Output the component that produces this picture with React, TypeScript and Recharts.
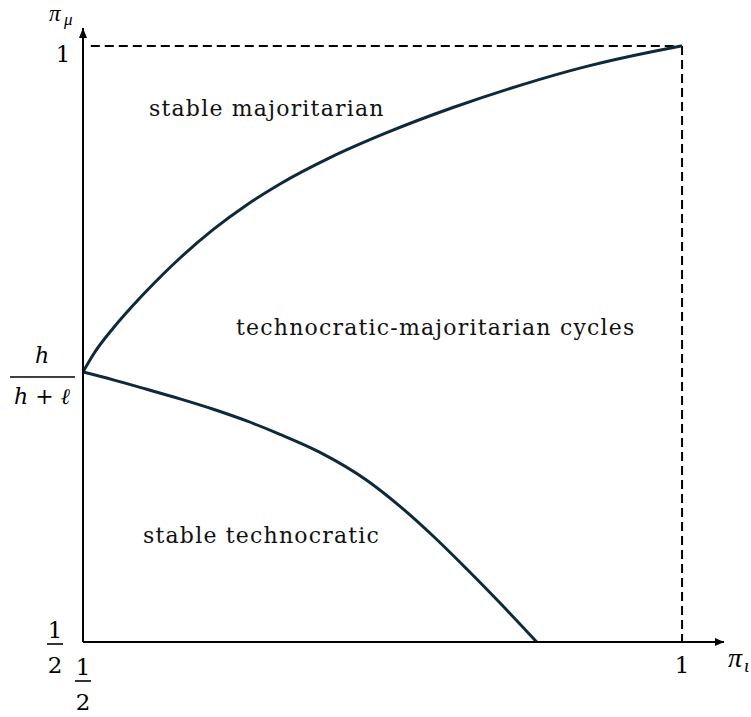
import React from 'react';
import { ComposedChart, Line, XAxis, YAxis, ReferenceLine, ReferenceDot } from 'recharts';

// Upper boundary: stable majoritarian / cycles
const upperX = [0.5, 0.5086, 0.5253, 0.5392, 0.5532, 0.567, 0.581, 0.6088, 0.6366, 0.6644, 0.7062, 0.7535, 0.8088, 0.8648, 0.9204, 0.9758, 1];
const upperY = [0.7265, 0.7412, 0.7634, 0.7795, 0.7946, 0.8087, 0.8221, 0.8461, 0.8666, 0.8842, 0.9063, 0.9272, 0.9483, 0.9669, 0.9828, 0.9953, 1];
// Lower boundary: stable technocratic / cycles
const lowerX = [0.5, 0.5253, 0.5532, 0.581, 0.6088, 0.6366, 0.6644, 0.6978, 0.7368, 0.7646, 0.7924, 0.8203, 0.8481, 0.8787];
const lowerY = [0.7265, 0.7199, 0.712, 0.7039, 0.6952, 0.6854, 0.6742, 0.6591, 0.6357, 0.6138, 0.5887, 0.5612, 0.5327, 0.5];

const xTicks = [0.5, 1];
const xTickLabels = ['1/2', '1'];
const yTicks = [0.5, 0.7265, 1];
const yTickLabels = ['1/2', 'h/(h+ℓ)', '1'];

const regionNames = ['stable majoritarian', 'technocratic-majoritarian cycles', 'stable technocratic'];
const regionAnchorX = [0.5551, 0.6277, 0.5501];
const regionAnchorY = [0.9413, 0.7576, 0.5831];

const upperData = upperX.map((x, i) => ({ x, y: upperY[i] }));
const lowerData = lowerX.map((x, i) => ({ x, y: lowerY[i] }));

const W = 751;
const H = 717;
const MATH = "'DejaVu Serif', serif";
const GREEK = "'Liberation Serif', serif";
const TEXT = "'DejaVu Serif', serif";
const CURVE = '#0e2a3a';

const Frac = ({ cx, numY, barY, denY, half, num, den, size }: any) => (
  <g fontFamily={MATH} fontSize={size} fill="#000" textAnchor="middle">
    <text x={cx} y={numY}>{num}</text>
    <line x1={cx - half} x2={cx + half} y1={barY} y2={barY} stroke="#000" strokeWidth={1.6} />
    <text x={cx} y={denY}>{den}</text>
  </g>
);

const XTick = (props: any) => {
  const { x, y, payload } = props;
  const lab = xTickLabels[xTicks.indexOf(payload.value)];
  if (lab === '1/2') {
    return <Frac cx={x} numY={y + 33} barY={y + 39} denY={y + 68} half={8} num="1" den="2" size={23} />;
  }
  return (
    <text x={x} y={y + 31} textAnchor="middle" fontFamily={MATH} fontSize={23} fill="#000">{lab}</text>
  );
};

const YTick = (props: any) => {
  const { x, y, payload } = props;
  const lab = yTickLabels[yTicks.indexOf(payload.value)];
  if (lab === '1/2') {
    return <Frac cx={x - 28} numY={y - 4} barY={y + 2} denY={y + 31} half={8} num="1" den="2" size={23} />;
  }
  if (lab === '1') {
    return <text x={x - 20} y={y + 16} textAnchor="middle" fontFamily={MATH} fontSize={23} fill="#000">1</text>;
  }
  return (
    <g fontFamily={MATH} fontSize={22} fill="#000" textAnchor="middle">
      <text x={x - 41} y={y - 9} fontStyle="italic">h</text>
      <line x1={x - 73} x2={x - 8} y1={y + 5} y2={y + 5} stroke="#000" strokeWidth={1.6} />
      <text x={x - 41} y={y + 32}>
        <tspan fontStyle="italic">h</tspan>
        <tspan> + </tspan>
        <tspan fontStyle="italic">ℓ</tspan>
      </text>
    </g>
  );
};

const ArrowUp = (props: any) => {
  const { cx, cy } = props;
  return (
    <g>
      <polygon points={`${cx},${cy} ${cx - 4},${cy + 10} ${cx + 4},${cy + 10}`} fill="#000" />
      <text x={cx - 34} y={cy - 7} fontFamily={GREEK} fontStyle="italic" fontSize={23} fill="#000">π</text>
      <text x={cx - 19} y={cy - 3} fontFamily={GREEK} fontStyle="italic" fontSize={17} fill="#000">μ</text>
    </g>
  );
};

const ArrowRight = (props: any) => {
  const { cx, cy } = props;
  return (
    <g>
      <polygon points={`${cx},${cy} ${cx - 9},${cy - 4} ${cx - 9},${cy + 4}`} fill="#000" />
      <text x={cx + 4} y={cy + 25} fontFamily={GREEK} fontStyle="italic" fontSize={28} fill="#000">π</text>
      <text x={cx + 20} y={cy + 30} fontFamily={GREEK} fontStyle="italic" fontSize={19} fill="#000">ι</text>
    </g>
  );
};

const RegionLabel = (name: string) => (props: any) => (
  <text x={props.cx} y={props.cy} fontFamily={TEXT} fontSize={22} letterSpacing={1.2} fill="#111">{name}</text>
);

export default function App() {
  return (
    <div style={{ position: 'absolute', left: 0, top: 0, width: W, height: H }}>
      <ComposedChart width={W} height={H} margin={{ top: 28, right: 27, bottom: 0, left: 0 }}>
        <XAxis
          type="number"
          dataKey="x"
          domain={[0.5, 1.035]}
          ticks={xTicks}
          interval={0}
          allowDataOverflow
          height={75}
          tickLine={false}
          tickSize={0}
          tickMargin={0}
          axisLine={{ stroke: '#000', strokeWidth: 2 }}
          tick={<XTick />}
        />
        <YAxis
          type="number"
          dataKey="y"
          domain={[0.5, 1.015]}
          ticks={yTicks}
          interval={0}
          allowDataOverflow
          width={83}
          tickLine={false}
          tickSize={0}
          tickMargin={0}
          axisLine={{ stroke: '#000', strokeWidth: 2 }}
          tick={<YTick />}
        />
        <ReferenceLine segment={[{ x: 0.5065, y: 1 }, { x: 1, y: 1 }]} stroke="#000" strokeWidth={2} strokeDasharray="9 5" ifOverflow="visible" />
        <ReferenceLine segment={[{ x: 1, y: 1 }, { x: 1, y: 0.5 }]} stroke="#000" strokeWidth={2} strokeDasharray="9 5" ifOverflow="visible" />
        <Line data={upperData} dataKey="y" type="monotone" stroke={CURVE} strokeWidth={3} dot={false} isAnimationActive={false} />
        <Line data={lowerData} dataKey="y" type="monotone" stroke={CURVE} strokeWidth={3} dot={false} isAnimationActive={false} />
        <ReferenceDot x={0.5} y={1.015} r={0} ifOverflow="visible" shape={<ArrowUp />} />
        <ReferenceDot x={1.035} y={0.5} r={0} ifOverflow="visible" shape={<ArrowRight />} />
        {regionNames.map((n, i) => (
          <ReferenceDot key={n} x={regionAnchorX[i]} y={regionAnchorY[i]} r={0} ifOverflow="visible" shape={RegionLabel(n)} />
        ))}
      </ComposedChart>
    </div>
  );
}
